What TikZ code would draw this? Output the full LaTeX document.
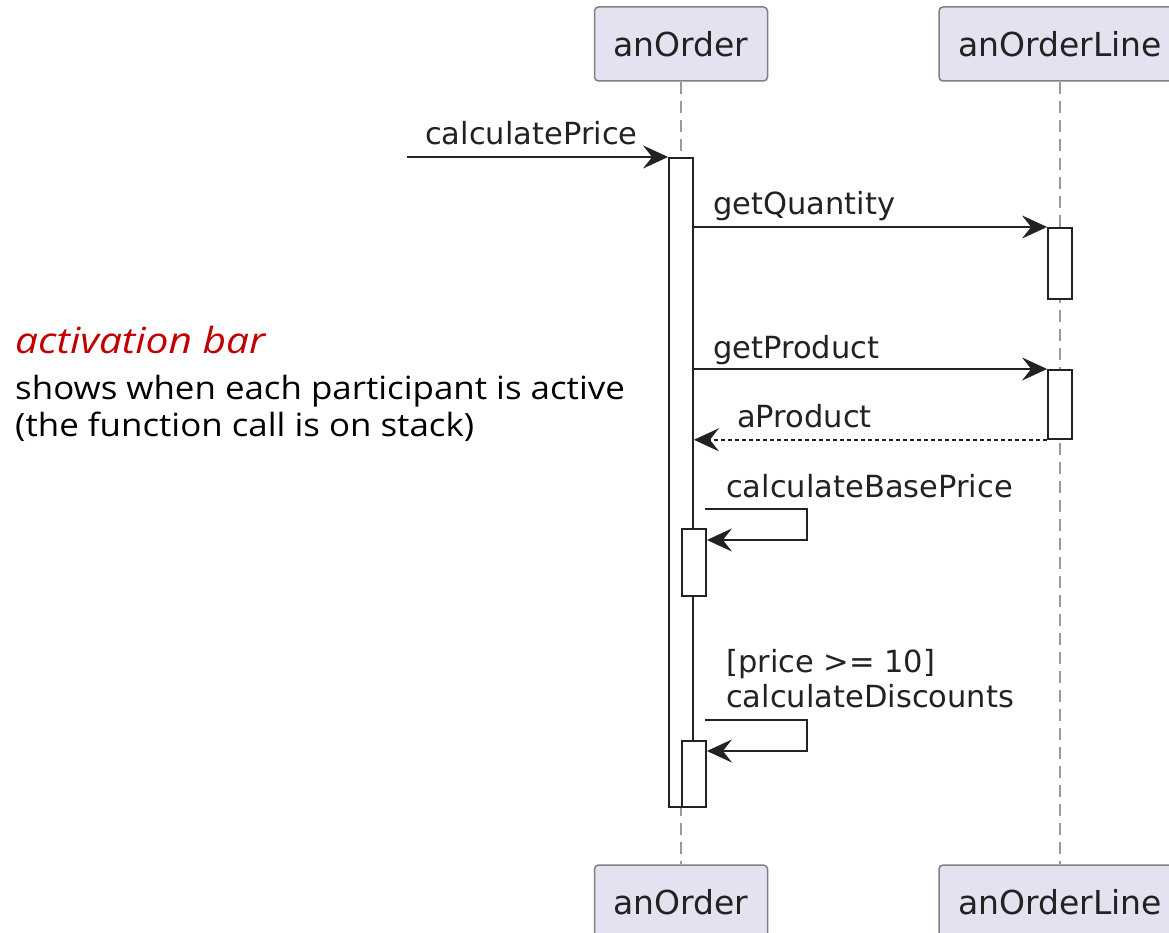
\documentclass[tikz,border=0pt]{standalone}
\usepackage{fontspec}
\usepackage{graphicx}
\setmainfont{DejaVu Sans}
\newfontfamily\notefont{Open Sans}
\usetikzlibrary{arrows.meta}
\definecolor{partfill}{HTML}{E2E2F0}
\definecolor{partdraw}{HTML}{808080}
\definecolor{ink}{HTML}{222222}
\definecolor{lifegray}{HTML}{9A9A9A}
\definecolor{notered}{HTML}{C00000}
\begin{document}
\begin{tikzpicture}[x=1pt,y=-1pt,
  part/.style={draw=partdraw, fill=partfill, line width=1.5pt, rounded corners=4pt,
    minimum width=173pt, minimum height=74pt, inner sep=0pt,
    font=\fontsize{33}{40}\selectfont, text=ink},
  life/.style={draw=lifegray, line width=1.5pt, dash pattern=on 12pt off 7pt},
  actbar/.style={draw=ink, fill=white, line width=1.8pt, minimum width=24pt,
    inner sep=0pt, anchor=north},
  msg/.style={draw=ink, line width=2pt, -{Stealth[length=25pt,width=23pt,inset=9pt]}},
  ret/.style={msg, dash pattern=on 4pt off 3pt},
  lbl/.style={anchor=base west, inner sep=0pt, font=\fontsize{30.5}{36}\selectfont, text=ink},
  note/.style={anchor=base west, inner sep=0pt, font=\notefont\fontsize{32}{38}\selectfont}
]
\useasboundingbox (0,0) rectangle (1169,933);
\clip (0,0) rectangle (1169,933);

% participants
\node[part] (oTop) at (681,44) {anOrder};
\node[part, minimum width=242pt] (lTop) at (1060,44) {anOrderLine};
\node[part] (oBot) at (681,902) {anOrder};
\node[part, minimum width=242pt] (lBot) at (1060,902) {anOrderLine};

% lifelines
\draw[life] (oTop) -- (oBot);
\draw[life] (lTop) -- (lBot);

% activation bars
\node[actbar, minimum height=649pt] (b0) at (681,157) {};
\node[actbar, minimum height=71pt] (b1) at (1060,227) {};
\node[actbar, minimum height=69pt] (b2) at (1060,369) {};
\node[actbar, minimum height=67pt] (bA) at (694,528) {};
\node[actbar, minimum height=66pt] (bB) at (694,740) {};

% messages
\coordinate (src) at (407,157);
\draw[msg] (src) -- (b0.north west);
\node[lbl] (tCP) at (425,145) {calculatePrice};

\draw[msg] (b0.east |- b1.north) -- (b1.north west);
\node[lbl] (tGQ) at (713,215) {getQuantity};

\draw[msg] (b0.east |- b2.north) -- (b2.north west);
\node[lbl] (tGP) at (713,358) {getProduct};

\draw[ret] (b2.south west) -- (b0.east |- b2.south);
\node[lbl] (tAP) at (737,427) {aProduct};

\coordinate (s1) at (705,509);
\coordinate (s1c) at (807,540);
\draw[msg] (s1) -| (s1c) -- (bA.east |- s1c);
\node[lbl] (tBP) at (726,497) {calculateBasePrice};

\coordinate (s2) at (705,720);
\coordinate (s2c) at (807,751);
\draw[msg] (s2) -| (s2c) -- (bB.east |- s2c);
\node[lbl] (tG) at (726,672) {[price >= 10]};
\node[lbl] (tCD) at (726,707) {calculateDiscounts};

% note
\node[note, font=\notefont\itshape\fontsize{36}{42}\selectfont, text=notered] (n1) at (15,353) {\scalebox{1.13}[1]{activation bar}};
\node[note] (n2) at (15,399) {\scalebox{1.09}[1]{shows when each participant is active}};
\node[note] (n3) at (15,436) {\scalebox{1.09}[1]{(the function call is on stack)}};
\end{tikzpicture}
\end{document}
